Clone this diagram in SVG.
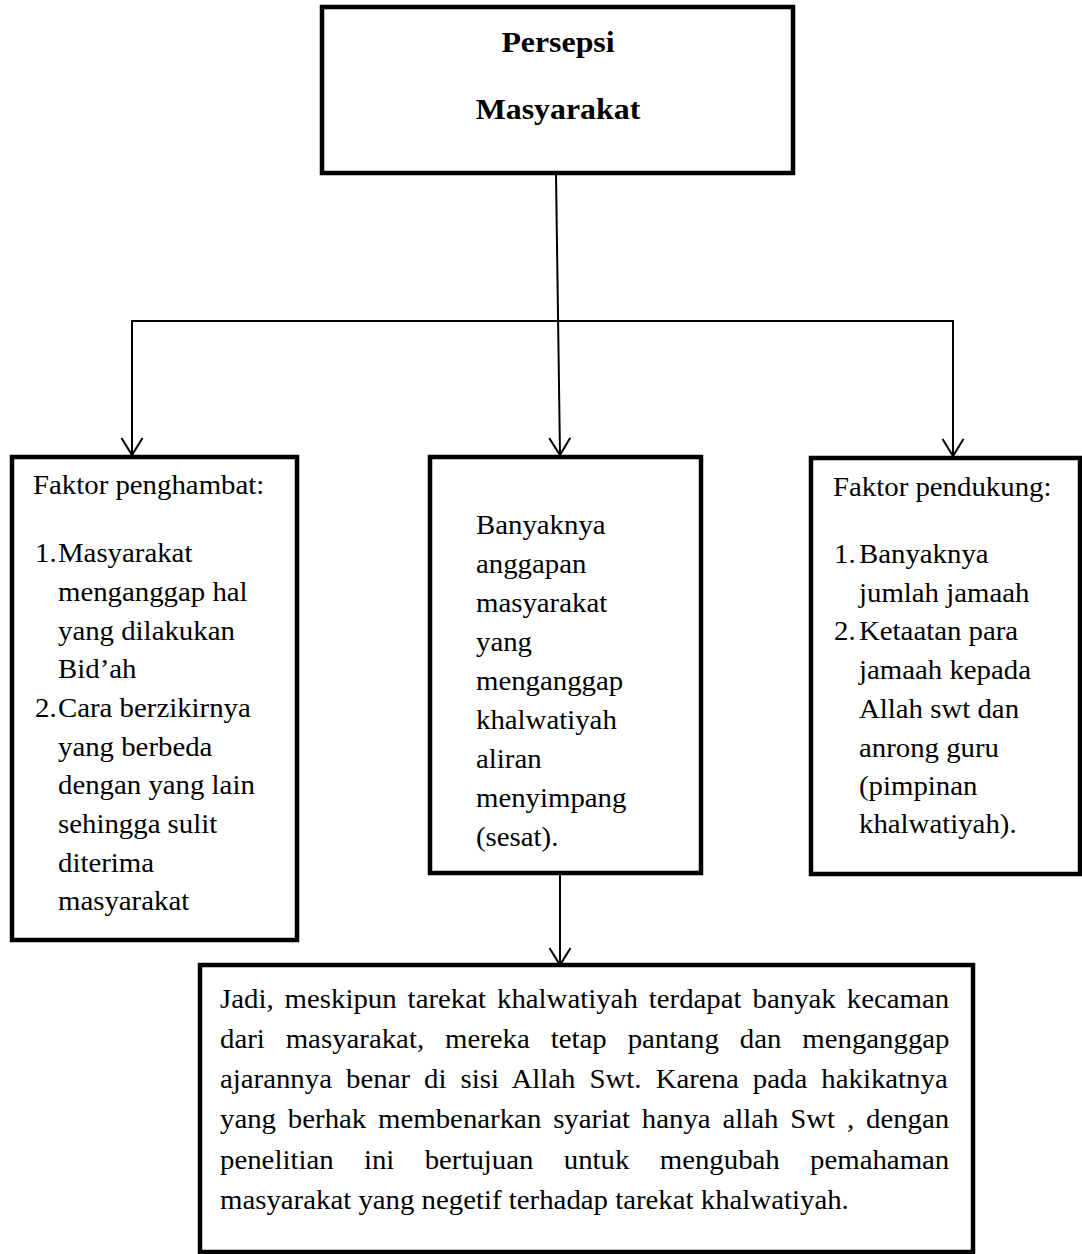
<svg xmlns="http://www.w3.org/2000/svg" width="1082" height="1254" viewBox="0 0 1082 1254">
<defs>
<style>
.box{fill:#fff;stroke:#000;stroke-width:4.5}
.con{fill:none;stroke:#000;stroke-width:2}
.t{font-family:"Liberation Serif","Times New Roman",serif;font-size:26.7px;fill:#000}
.tb{font-family:"Liberation Serif","Times New Roman",serif;font-size:29.5px;font-weight:bold;fill:#000;text-anchor:middle}
</style>
<marker id="arr" markerUnits="userSpaceOnUse" markerWidth="24" markerHeight="26" refX="20" refY="12" orient="auto" viewBox="0 0 24 24">
<path d="M3 1.5 L20 12 L3 22.5" fill="none" stroke="#000" stroke-width="2"/>
</marker>
</defs>
<rect width="1082" height="1254" fill="#fff"/>

<g id="connectors">
<path class="con" d="M556 175 L560 455" marker-end="url(#arr)"/>
<path class="con" d="M557 321 L132 321 L132 455" marker-end="url(#arr)"/>
<path class="con" d="M555 321 L953 321 L953 456" marker-end="url(#arr)"/>
<path class="con" d="M560 875 L560 965" marker-end="url(#arr)"/>
</g>

<g id="node-persepsi">
<rect class="box" x="322" y="7" width="471" height="166"/>
<text class="tb" transform="translate(558,52) scale(1.08,1)">Persepsi</text>
<text class="tb" transform="translate(558,119) scale(1.08,1)">Masyarakat</text>
</g>

<g id="node-penghambat">
<rect class="box" x="12" y="457" width="285" height="483"/>
<text class="t" transform="translate(33,494) scale(1.08,1)">Faktor penghambat:</text>
<text class="t" transform="translate(35,562) scale(1.08,1)">1.</text>
<text class="t" transform="translate(58,562) scale(1.08,1)">Masyarakat</text>
<text class="t" transform="translate(58,601) scale(1.08,1)">menganggap hal</text>
<text class="t" transform="translate(58,639.5) scale(1.08,1)">yang dilakukan</text>
<text class="t" transform="translate(58,678) scale(1.08,1)">Bid’ah</text>
<text class="t" transform="translate(35,717) scale(1.08,1)">2.</text>
<text class="t" transform="translate(58,717) scale(1.08,1)">Cara berzikirnya</text>
<text class="t" transform="translate(58,755.5) scale(1.08,1)">yang berbeda</text>
<text class="t" transform="translate(58,794) scale(1.08,1)">dengan yang lain</text>
<text class="t" transform="translate(58,833) scale(1.08,1)">sehingga sulit</text>
<text class="t" transform="translate(58,871.5) scale(1.08,1)">diterima</text>
<text class="t" transform="translate(58,910) scale(1.08,1)">masyarakat</text>
</g>

<g id="node-anggapan">
<rect class="box" x="430" y="457" width="271" height="416"/>
<text class="t" transform="translate(476,534) scale(1.08,1)">Banyaknya</text>
<text class="t" transform="translate(476,573) scale(1.08,1)">anggapan</text>
<text class="t" transform="translate(476,612) scale(1.08,1)">masyarakat</text>
<text class="t" transform="translate(476,651) scale(1.08,1)">yang</text>
<text class="t" transform="translate(476,690) scale(1.08,1)">menganggap</text>
<text class="t" transform="translate(476,729) scale(1.08,1)">khalwatiyah</text>
<text class="t" transform="translate(476,767.5) scale(1.08,1)">aliran</text>
<text class="t" transform="translate(476,806.5) scale(1.08,1)">menyimpang</text>
<text class="t" transform="translate(476,845.5) scale(1.08,1)">(sesat).</text>
</g>

<g id="node-pendukung">
<rect class="box" x="811" y="458" width="269" height="416"/>
<text class="t" transform="translate(833,496) scale(1.08,1)">Faktor pendukung:</text>
<text class="t" transform="translate(834,563) scale(1.08,1)">1.</text>
<text class="t" transform="translate(859,563) scale(1.08,1)">Banyaknya</text>
<text class="t" transform="translate(859,602) scale(1.08,1)">jumlah jamaah</text>
<text class="t" transform="translate(834,640) scale(1.08,1)">2.</text>
<text class="t" transform="translate(859,640) scale(1.08,1)">Ketaatan para</text>
<text class="t" transform="translate(859,679) scale(1.08,1)">jamaah kepada</text>
<text class="t" transform="translate(859,718) scale(1.08,1)">Allah swt dan</text>
<text class="t" transform="translate(859,757) scale(1.08,1)">anrong guru</text>
<text class="t" transform="translate(859,795) scale(1.08,1)">(pimpinan</text>
<text class="t" transform="translate(859,833) scale(1.08,1)">khalwatiyah).</text>
</g>

<g id="node-kesimpulan">
<rect class="box" x="200" y="965" width="773" height="287"/>
<text class="t" transform="translate(220,1008) scale(1.08,1)" word-spacing="3.5">Jadi, meskipun tarekat khalwatiyah terdapat banyak kecaman</text>
<text class="t" transform="translate(220,1048) scale(1.08,1)" word-spacing="12.7">dari masyarakat, mereka tetap pantang dan menganggap</text>
<text class="t" transform="translate(220,1088) scale(1.08,1)" word-spacing="6.35">ajarannya benar di sisi Allah Swt. Karena pada hakikatnya</text>
<text class="t" transform="translate(220,1128) scale(1.08,1)" word-spacing="4.3">yang berhak membenarkan syariat hanya allah Swt , dengan</text>
<text class="t" transform="translate(220,1169) scale(1.08,1)" word-spacing="21.4">penelitian ini bertujuan untuk mengubah pemahaman</text>
<text class="t" transform="translate(220,1209) scale(1.08,1)">masyarakat yang negetif terhadap tarekat khalwatiyah.</text>
</g>
</svg>
